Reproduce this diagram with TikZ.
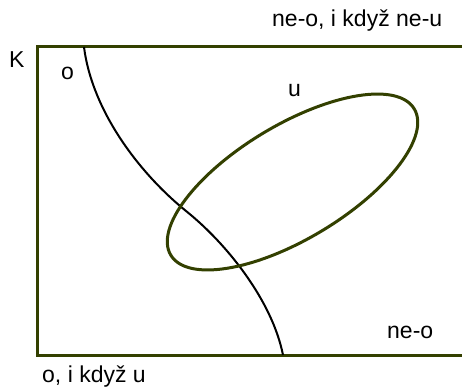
\documentclass[tikz,border=0pt]{standalone}
\usepackage{fontspec}
\setmainfont{Liberation Sans}
\usetikzlibrary{positioning}
\definecolor{Kc}{HTML}{334000}
\tikzset{
  frame/.style={Kc, line width=3pt, line cap=butt, line join=miter},
  uset/.style={Kc, line width=3pt},
  obound/.style={black, line width=2pt},
  lbl/.style={font=\fontsize{23}{27}\selectfont, inner sep=0pt, anchor=base west},
}
\begin{document}
\begin{tikzpicture}[x=1pt, y=1pt]
  \useasboundingbox (0,0) rectangle (462,386);
  % frame K, open to the right
  \coordinate (tr) at (462,339); \coordinate (tl) at (37,339);
  \coordinate (bl) at (37,31);   \coordinate (br) at (462,31);
  \draw[frame] (tr) -- (tl) -- (bl) -- (br);
  % boundary of o
  \coordinate (otop) at (84,339); \coordinate (omid) at (186,175); \coordinate (obot) at (283,31);
  \draw[obound] (otop) .. controls (92,276) and (138,214) .. (omid)
                       .. controls (226,143) and (272,86) .. (obot);
  % set u
  \coordinate (u) at (292.5,204);
  \draw[uset] (u) ellipse[x radius=142, y radius=57, rotate=31];
  % labels
  \node[lbl] (lK) at (9,318) {K};
  \node[lbl] (lo) at (61,306) {o};
  \node[lbl] (lu) at (288,289) {u};
  \node[lbl] (ltop) at (272,359) {ne-o, i když ne-u};
  \node[lbl] (lneo) at (387,48) {ne-o};
  \node[lbl] (lbot) at (42,4) {o, i když u};
\end{tikzpicture}
\end{document}
